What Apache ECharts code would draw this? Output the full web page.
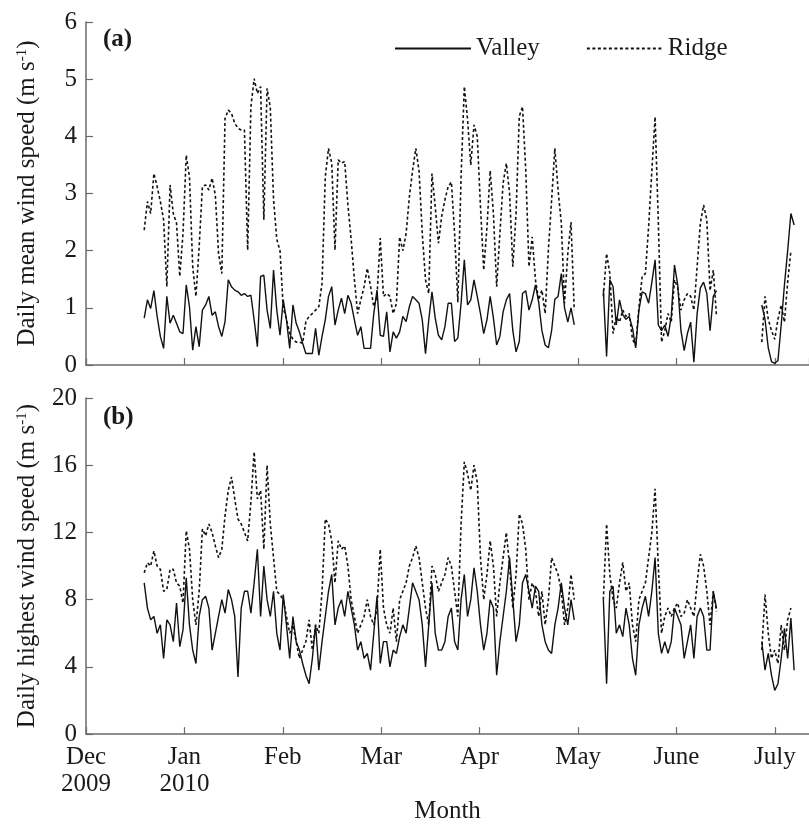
<!DOCTYPE html>
<html><head><meta charset="utf-8">
<script src="https://cdn.jsdelivr.net/npm/echarts@6/dist/echarts.min.js"></script>
<style>html,body{margin:0;padding:0;background:#fff}#c{width:809px;height:825px}</style>
</head><body><div id="c"></div>
<script>
// x axis: days since 1 Dec 2009; ticks every average month
const monthLabels = ['Dec\n2009','Jan\n2010','Feb','Mar','Apr','May','June','July'];
const MONTH = 30.4375;
const segStarts = [18, 160, 209];

// (a) daily mean wind speed
const valleyMean1 = [0.82,1.14,0.99,1.30,0.85,0.50,0.29,1.20,0.73,0.87,0.73,0.58,0.55,1.40,1.02,0.26,0.67,0.32,0.96,1.05,1.20,0.87,0.93,0.67,0.50,0.76,1.49,1.37,1.31,1.28,1.22,1.25,1.20,1.22,0.79,0.32,1.55,1.57,0.96,0.64,1.66,0.96,0.52,
 1.14,0.79,0.29,1.05,0.73,0.58,0.38,0.20,0.20,0.20,0.64,0.17,0.50,0.79,1.20,1.37,0.70,0.96,1.17,0.90,1.22,1.08,0.79,0.52,0.67,0.29,0.29,0.29,0.90,1.31,0.52,0.50,0.93,0.23,0.58,0.47,0.58,0.85,0.76,1.02,1.20,1.14,1.08,0.79,0.20,0.79,1.28,0.82,0.52,0.44,0.67,1.08,
 1.08,0.41,0.47,1.08,1.84,1.05,1.14,1.49,1.20,0.90,0.55,0.79,1.20,0.82,0.35,0.50,0.93,1.14,1.25,0.60,0.23,0.41,1.25,1.30,0.96,1.14,1.40,1.10,0.60,0.35,0.30,0.60,1.15,1.20,1.60,1.00,0.75,1.00,0.70];
const valleyMean2 = [1.31,0.15,1.49,1.37,0.70,1.14,0.88,0.80,0.85,0.65,0.30,0.96,1.28,1.25,1.08,1.45,1.84,0.70,0.60,0.70,0.50,0.85,1.75,1.40,0.60,0.25,0.55,0.75,0.05,0.90,1.35,1.45,1.25,0.60,1.20,1.30];
const valleyMean3 = [1.05,0.80,0.30,0.06,0.03,0.08,0.70,1.40,2.00,2.65,2.45];

const ridgeMean1 = [2.36,2.86,2.65,3.35,3.12,2.86,2.54,1.37,3.15,2.65,2.48,1.55,2.30,3.67,3.29,1.72,1.20,2.07,3.12,3.15,3.06,3.27,2.97,1.95,1.60,4.31,4.46,4.40,4.23,4.14,4.11,4.11,2.01,4.52,5.01,4.75,4.87,2.54,4.84,
 4.50,2.90,2.20,2.00,1.00,0.80,0.55,0.45,0.40,0.40,0.38,0.76,0.85,0.90,0.96,1.02,1.43,3.29,3.79,3.53,2.01,3.59,3.53,3.56,2.80,2.20,1.50,0.90,1.14,1.37,1.69,1.37,1.02,1.20,2.22,1.20,1.25,1.20,0.90,1.08,2.24,2.00,2.30,2.94,3.40,3.79,3.40,2.30,1.49,1.25,3.35,2.77,2.13,2.60,2.89,3.12,
 3.20,2.30,1.10,3.30,4.87,4.30,3.50,4.20,4.00,2.77,1.66,2.40,3.40,2.65,1.37,2.30,3.18,3.53,3.00,1.72,2.65,4.35,4.52,3.41,1.72,2.24,1.49,1.14,1.31,0.90,2.01,2.89,3.79,3.06,2.48,1.08,1.95,2.50,0.96];
const ridgeMean2 = [1.20,1.95,1.60,0.55,0.85,0.75,0.96,0.85,0.90,0.45,0.35,1.00,1.55,1.60,2.42,3.40,4.34,2.50,0.40,0.60,0.90,0.75,1.49,1.35,0.96,1.14,1.25,1.20,0.96,1.72,2.48,2.80,2.54,1.30,1.66,0.85];
const ridgeMean3 = [0.40,1.20,0.80,0.60,0.45,0.80,1.05,0.75,1.45,2.00,null];

// (b) daily highest wind speed
const valleyMax1 = [9.0,7.5,6.8,7.0,6.0,6.5,4.5,6.8,6.5,5.5,7.8,5.2,6.2,9.3,6.5,5.0,4.2,7.0,8.0,8.2,7.5,5.0,6.0,7.0,8.0,7.2,8.6,8.0,7.0,3.4,7.5,8.5,8.5,7.2,9.0,11.0,7.0,10.0,8.0,7.0,8.5,6.0,5.0,
 8.3,6.5,4.5,7.0,5.5,5.0,4.2,3.5,3.0,4.5,6.5,3.8,5.5,7.0,8.5,9.5,6.5,7.5,8.0,7.0,8.5,7.5,6.5,5.0,5.5,4.5,4.8,3.8,6.0,8.2,4.2,5.5,5.5,4.0,5.0,4.8,5.8,6.5,6.0,7.5,9.0,8.5,8.0,6.5,4.0,6.5,9.0,6.0,5.0,5.0,5.5,7.0,
 7.5,5.5,5.0,8.0,9.5,7.0,8.0,9.9,8.5,6.5,5.0,6.0,8.0,7.5,3.5,5.5,7.0,8.5,10.5,8.0,5.5,6.5,9.0,9.5,8.5,7.5,8.8,8.5,6.5,5.5,5.0,4.8,6.5,7.5,9.0,7.5,6.5,8.0,6.8];
const valleyMax2 = [8.0,3.0,8.5,8.8,6.0,6.5,5.8,7.5,6.5,4.5,3.5,6.5,7.5,8.2,7.0,8.5,10.5,6.0,4.8,5.5,4.8,5.5,7.5,7.0,6.5,4.5,5.5,6.5,4.5,7.0,7.5,7.0,5.0,5.0,8.5,7.5];
const valleyMax3 = [5.5,3.8,4.8,3.5,2.6,3.0,4.5,6.3,4.5,6.9,3.8];

const ridgeMax1 = [9.6,10.2,10.0,10.9,10.0,9.8,8.5,8.6,9.8,9.8,9.0,8.8,7.8,12.1,11.0,8.0,6.5,8.5,12.2,11.8,12.5,12.0,11.2,10.5,11.0,13.0,14.5,15.3,14.0,12.8,12.5,12.0,11.5,13.8,16.8,14.0,14.5,11.0,16.0,12.5,10.5,8.5,8.3,
 8.0,7.0,6.0,6.5,5.5,4.5,5.0,5.5,6.8,5.0,6.5,6.0,8.5,12.8,12.5,11.5,9.0,11.5,11.0,11.2,10.0,8.0,7.0,6.0,6.5,7.0,8.0,7.0,6.5,7.5,11.0,7.5,6.5,6.0,7.5,5.5,8.0,8.5,9.0,10.0,10.5,11.2,10.5,9.0,7.5,6.5,10.0,9.5,8.5,9.0,9.5,10.5,
 10.0,8.5,7.0,12.5,16.2,15.5,14.5,16.0,15.0,10.5,8.0,9.5,11.5,10.0,7.0,9.0,10.5,12.0,10.0,7.5,9.5,13.1,12.5,11.0,8.0,9.0,8.5,7.0,8.5,6.5,8.0,10.5,10.0,9.5,8.5,6.5,7.5,9.5,8.0];
const ridgeMax2 = [8.0,12.5,9.5,8.0,7.5,9.0,10.2,8.5,9.0,6.5,5.5,8.0,8.5,9.0,10.5,12.0,14.6,10.0,6.0,7.0,7.5,7.0,7.5,7.8,7.0,7.2,8.0,7.5,7.0,9.0,10.7,10.0,8.5,6.5,8.5,7.3];
const ridgeMax3 = [5.0,8.3,6.0,4.5,5.0,4.2,6.5,5.0,6.8,7.5,null];

function build(segs){
  const out=[];
  segs.forEach((s,k)=>{
    if(k>0) out.push([segStarts[k]-1,null]);
    s.forEach((v,i)=>out.push([segStarts[k]+i, v]));
  });
  return out;
}

const FONT = '"Liberation Serif","Times New Roman",serif';
const AX = '#6a6a6a';
const TXT = '#1a1a1a';
const chart = echarts.init(document.getElementById('c'), null, {renderer:'canvas'});

function xAxis(gi, showLabels){
  return {
    type:'value', gridIndex:gi, min:0, max:223.6, interval:MONTH,
    axisLine:{show:true, onZero:false, lineStyle:{color:AX, width:1.5}},
    axisTick:{show:true, inside:true, length:7, lineStyle:{color:AX, width:1.2}},
    splitLine:{show:false},
    axisLabel:{show:showLabels, showMaxLabel:false, margin:10, fontFamily:FONT, fontSize:25, lineHeight:27, color:TXT,
      formatter:v=>{const i=v/MONTH; const r=Math.round(i); return Math.abs(i-r)<0.01 && monthLabels[r]!==undefined ? monthLabels[r] : '';}},
    name: showLabels ? 'Month' : '', nameLocation:'middle', nameGap:62,
    nameTextStyle:{fontFamily:FONT, fontSize:25, color:TXT}
  };
}
function yAxis(gi, max, interval, label){
  return {
    type:'value', gridIndex:gi, min:0, max:max, interval:interval,
    axisLine:{show:true, lineStyle:{color:AX, width:1.5}},
    axisTick:{show:true, inside:true, length:7, lineStyle:{color:AX, width:1.2}},
    splitLine:{show:false},
    axisLabel:{margin:9, fontFamily:FONT, fontSize:25, color:TXT},
    name:label, nameLocation:'middle', nameRotate:90, nameGap:46,
    nameTextStyle:{fontFamily:FONT, fontSize:25, color:TXT,
      rich:{a:{fontFamily:FONT, fontSize:25, color:TXT}, s:{fontFamily:FONT, fontSize:15, color:TXT, verticalAlign:'top', padding:[0,0,10,0]}}}
  };
}
const solid = {color:'#111', width:1.4, type:'solid'};
const dotted = {color:'#111', width:1.6, type:[3,2.5]};
function line(name, data, gi, style){
  return {name, type:'line', xAxisIndex:gi, yAxisIndex:gi, data, showSymbol:false, symbol:'none',
    connectNulls:false, lineStyle:style, itemStyle:{color:'#111'}, animation:false, z: name==='Valley'?3:2};
}

chart.setOption({
  animation:false,
  grid:[{left:86, right:0, top:22, bottom:460},{left:86, right:0, top:398, bottom:82}],
  xAxis:[xAxis(0,false), xAxis(1,true)],
  yAxis:[yAxis(0,6,1,'{a|Daily mean wind speed (m s}{s|-1}{a|)}'),
         yAxis(1,20,4,'{a|Daily highest wind speed (m s}{s|-1}{a|)}')],
  legend:{data:['Valley','Ridge'], left:389, top:31, itemWidth:76, itemHeight:14, itemGap:46,
    itemStyle:{opacity:0, borderWidth:0},
    textStyle:{fontFamily:FONT, fontSize:25, color:TXT}, selectedMode:false},
  graphic:[
    {type:'text', left:103, top:27, style:{text:'(a)', fontFamily:FONT, fontSize:25, fontWeight:'bold', fill:TXT}},
    {type:'text', left:103, top:405, style:{text:'(b)', fontFamily:FONT, fontSize:25, fontWeight:'bold', fill:TXT}}
  ],
  series:[
    line('Valley', build([valleyMean1,valleyMean2,valleyMean3]), 0, solid),
    line('Ridge', build([ridgeMean1,ridgeMean2,ridgeMean3]), 0, dotted),
    line('Valley', build([valleyMax1,valleyMax2,valleyMax3]), 1, solid),
    line('Ridge', build([ridgeMax1,ridgeMax2,ridgeMax3]), 1, dotted)
  ]
});
</script></body></html>
